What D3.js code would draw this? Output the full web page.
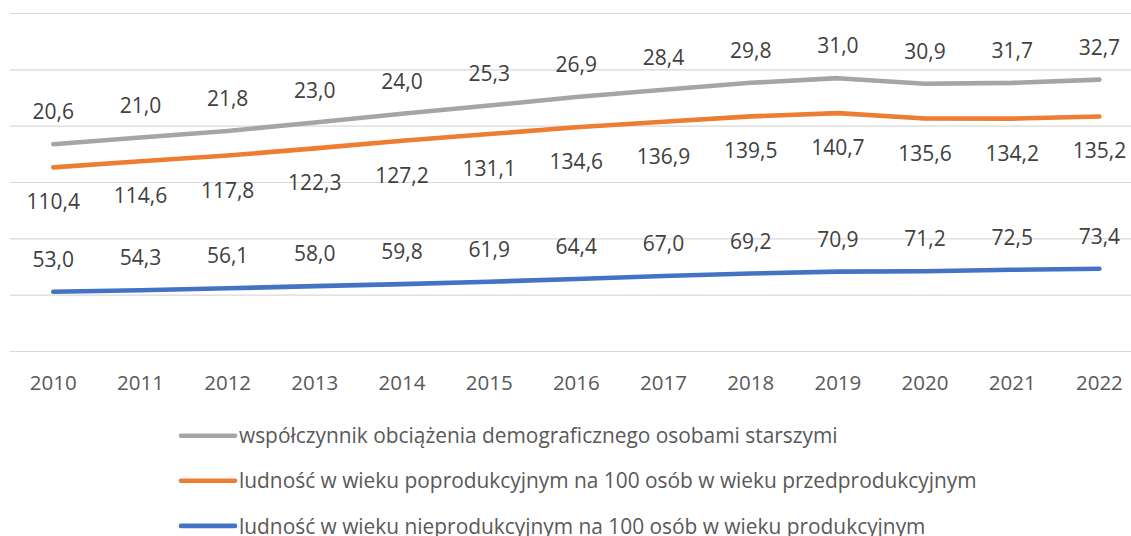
<!DOCTYPE html>
<html>
<head>
<meta charset="utf-8">
<script src="https://cdn.jsdelivr.net/npm/d3@7"></script>
<style>
  html, body { margin: 0; padding: 0; background: #ffffff; }
  svg { display: block; font-family: "Open Sans", "Noto Sans", sans-serif; }
</style>
</head>
<body>
<svg id="chart" width="1131" height="536"></svg>
<script>
// ---- data ----
const years = ["2010","2011","2012","2013","2014","2015","2016","2017","2018","2019","2020","2021","2022"];
const nonProductive = [53.0, 54.3, 56.1, 58.0, 59.8, 61.9, 64.4, 67.0, 69.2, 70.9, 71.2, 72.5, 73.4];
const postProductive = [110.4, 114.6, 117.8, 122.3, 127.2, 131.1, 134.6, 136.9, 139.5, 140.7, 135.6, 134.2, 135.2];
const oldAgeRatio = [20.6, 21.0, 21.8, 23.0, 24.0, 25.3, 26.9, 28.4, 29.8, 31.0, 30.9, 31.7, 32.7];
const seriesNames = [
  "ludność w wieku nieprodukcyjnym na 100 osób w wieku produkcyjnym",
  "ludność w wieku poprodukcyjnym na 100 osób w wieku przedprodukcyjnym",
  "współczynnik obciążenia demograficznego osobami starszymi"
];
const yTicks = [0, 50, 100, 150, 200, 250, 300];

// ---- layout ----
const svg = d3.select("#chart");
const plot = { left: 9.7, right: 1143, top: 13.5, bottom: 351.5 };
const colors = ["#4472C4", "#ED7D31", "#A5A5A5"];
const labelPos = ["above", "below", "above"];

const x = d3.scaleBand().domain(years).range([plot.left, plot.right]).padding(0);
const cx = d => x(d) + x.bandwidth() / 2;
const y = d3.scaleLinear().domain([0, 300]).range([plot.bottom, plot.top]);

const keys = ["s0", "s1", "s2"];
const table = years.map((yr, i) => ({ year: yr, s0: nonProductive[i], s1: postProductive[i], s2: oldAgeRatio[i] }));
const stacked = d3.stack().keys(keys)(table);

// gridlines
svg.append("g").selectAll("line").data(yTicks).join("line")
  .attr("x1", plot.left).attr("x2", plot.right)
  .attr("y1", d => y(d)).attr("y2", d => y(d))
  .attr("stroke", "#D9D9D9").attr("stroke-width", 1.2);

// x axis labels
svg.append("g").selectAll("text").data(years).join("text")
  .attr("x", d => cx(d)).attr("y", 390)
  .attr("text-anchor", "middle")
  .attr("font-size", 20.5).attr("fill", "#595959")
  .text(d => d);

// lines
const line = d3.line().x(d => cx(d.data.year)).y(d => y(d[1]));
svg.append("g").selectAll("path").data(stacked).join("path")
  .attr("d", line)
  .attr("fill", "none")
  .attr("stroke", (d, i) => colors[i])
  .attr("stroke-width", 4.6)
  .attr("stroke-linecap", "round")
  .attr("stroke-linejoin", "round");

// data labels
const fmt = v => d3.format(".1f")(v).replace(".", ",");
const labelSize = 21;
stacked.forEach((s, i) => {
  svg.append("g").selectAll("text").data(s).join("text")
    .attr("x", d => cx(d.data.year))
    .attr("y", d => labelPos[i] === "above" ? y(d[1]) - 24.9 : y(d[1]) + 42)
    .attr("text-anchor", "middle")
    .attr("font-size", labelSize)
    .attr("fill", "#404040")
    .text(d => fmt(d.data[keys[i]]));
});

// legend (reverse order: grey, orange, blue)
const legendOrder = [2, 1, 0];
const lg = svg.append("g");
const rows = legendOrder.map((si, r) => ({ si, r }));
const lgText = lg.selectAll("text").data(rows).join("text")
  .attr("x", 239).attr("y", d => 443.3 + d.r * 45.1)
  .attr("font-size", 20).attr("fill", "#595959")
  .text(d => seriesNames[d.si]);
// fit font size to legend width
const node = lgText.nodes()[1];
const len = node.getComputedTextLength();
const fs = 20 * 738 / len;
lgText.attr("font-size", fs);
lg.selectAll("line").data(rows).join("line")
  .attr("x1", 181).attr("x2", 235)
  .attr("y1", d => 435.7 + d.r * 45.1).attr("y2", d => 435.7 + d.r * 45.1)
  .attr("stroke", d => colors[d.si]).attr("stroke-width", 4.6)
  .attr("stroke-linecap", "round");
</script>
</body>
</html>
